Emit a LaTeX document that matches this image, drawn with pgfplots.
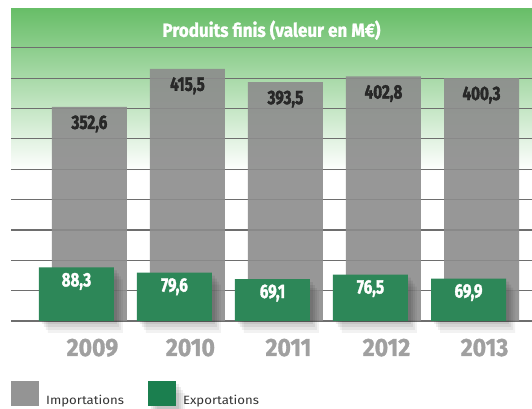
\documentclass[border=0pt]{standalone}
\usepackage{fontspec}
\usepackage{pgfplots}
\pgfplotsset{compat=1.18}
\newfontfamily\cfb[FakeStretch=0.78, FakeBold=1.6]{Fira Sans Bold}
\newfontfamily\cfy[FakeStretch=0.92, FakeBold=1.2]{Fira Sans Bold}
\newfontfamily\cft[FakeStretch=0.9, FakeBold=1.2]{Fira Sans Bold}
\newfontfamily\cfl[FakeStretch=1.1]{Fira Sans}
\definecolor{gtop}{HTML}{68BE68}
\definecolor{barg}{HTML}{8C8C8C}
\definecolor{barv}{HTML}{2D8758}
\definecolor{legv}{HTML}{1B7F4F}
\definecolor{legg}{HTML}{888888}
\definecolor{gridc}{HTML}{6E6E6E}
\definecolor{yearc}{HTML}{A0A0A0}
\definecolor{labc}{HTML}{1E1E1E}
\definecolor{legc}{HTML}{333333}
\pgfdeclareverticalshading{gfade}{100bp}{color(0bp)=(white); color(25bp)=(white); color(49bp)=(white); color(75bp)=(gtop); color(100bp)=(gtop)}
\tikzset{softshadow/.style={
  preaction={fill=black, fill opacity=0.07, transform canvas={xshift=3pt, yshift=-3pt}},
  preaction={fill=black, fill opacity=0.07, transform canvas={xshift=5pt, yshift=-6pt}},
  preaction={fill=black, fill opacity=0.06, transform canvas={xshift=7pt, yshift=-9pt}},
  preaction={fill=black, fill opacity=0.05, transform canvas={xshift=9pt, yshift=-12pt}}}}
\begin{document}
\begin{tikzpicture}[x=1pt,y=1pt]
\useasboundingbox (0,0) rectangle (532,409);
\begin{axis}[
  at={(11pt,88pt)}, anchor=south west,
  scale only axis, width=521pt, height=312pt,
  xmin=-0.8, xmax=4.515, ymin=0, ymax=514,
  ybar, bar width=75pt,
  axis line style={draw=none},
  major tick length=0pt,
  ytick={0,50,...,450}, yticklabels={},
  ymajorgrids, grid style={gridc, line width=1.2pt},
  xtick={0,1,2,3,4}, xticklabels={2009,2010,2011,2012,2013},
  xticklabel style={font=\cfy\fontsize{25}{25}\selectfont, text=yearc, anchor=base, yshift=-35pt, xshift=3pt},
  axis background/.style={shade, shading=gfade},
  clip=false,
  nodes near coords, point meta=y,
  /pgf/number format/fixed, /pgf/number format/fixed zerofill, /pgf/number format/precision=1,
  /pgf/number format/use comma, /pgf/number format/assume math mode=true,
  legend style={at={(0,-0.1923)}, anchor=north west, draw=none, fill=none, inner sep=0pt,
    legend columns=2, font=\cfl\fontsize{12}{12}\selectfont, text=legc,
    /tikz/every even column/.append style={column sep=22pt}},
]
\addplot[fill=barg, fill opacity=0.9, draw=none, bar shift=0pt,
  every node near coord/.append style={anchor=north, yshift=-5pt, text=labc, font=\cfb\fontsize{19.5}{19.5}\selectfont},
  legend image code/.code={\fill[legg] (0pt,-6pt) rectangle (28pt,19pt);}]
  coordinates {(0,352.6) (1,415.5) (2,393.5) (3,402.8) (4,400.3)};
\addlegendentry{\hspace{5pt}Importations}
\addplot[fill=barv, draw=none, bar shift=-13pt, softshadow,
  every node near coord/.append style={anchor=north, yshift=-2pt, text=white, font=\cfb\fontsize{19.5}{19.5}\selectfont},
  legend image code/.code={\fill[legv] (0pt,-6pt) rectangle (28pt,19pt);}]
  coordinates {(0,88.3) (1,79.6) (2,69.1) (3,76.5) (4,69.9)};
\addlegendentry{\hspace{5pt}Exportations}
\node[anchor=north, text=white, font=\cft\fontsize{19}{19}\selectfont] at (rel axis cs:0.5,1) [yshift=-8pt] {Produits finis (valeur en M€)};
\end{axis}
\end{tikzpicture}
\end{document}
